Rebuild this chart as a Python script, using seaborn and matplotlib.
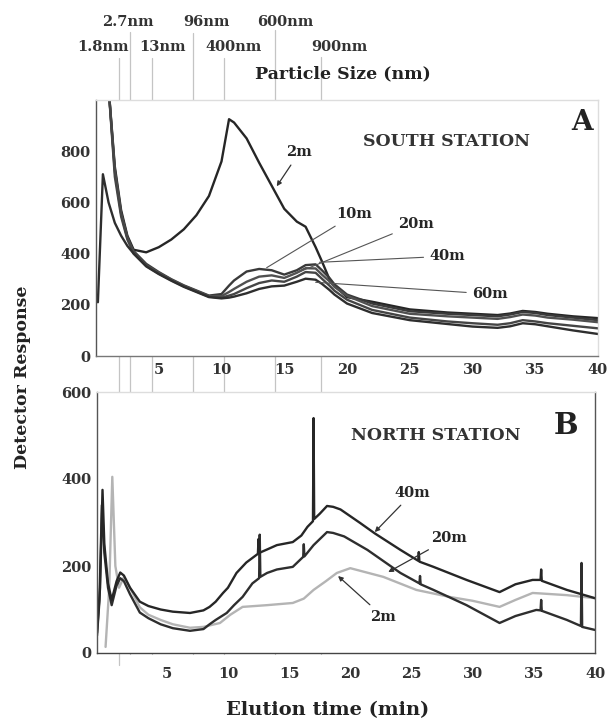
import numpy as np
import pandas as pd
import matplotlib
matplotlib.use("Agg")
import matplotlib.pyplot as plt
import matplotlib.transforms as mtransforms
from matplotlib.lines import Line2D
import seaborn as sns

# ---------------- data ----------------
nan = np.nan
# South station (panel A)
top_x = [0.15, 0.55, 1.0, 1.5, 2.0, 2.5, 3.0, 4, 5, 6, 7, 8, 9, 10, 10.6, 11, 12, 13, 14, 15,
         16, 16.7, 17.5, 18, 18.6, 19, 20, 22, 25, 28, 30, 32, 33, 34, 35, 36, 38, 40]
south_2m = [nan, nan, 1050, 740, 570, 470, 415, 405, 425, 455, 495, 550, 625, 760, 925, 912, 850, 755, 665, 575,
            525, 505, 425, 370, 300, 275, 230, 212, 182, 170, 165, 160, 166, 176, 172, 165, 155, 148]
south_10m = [nan, nan, 1050, 730, 560, 465, 410, 360, 328, 300, 276, 256, 236, 242, 275, 295, 330, 340, 335, 318,
             335, 355, 358, 335, 305, 280, 240, 205, 175, 165, 160, 155, 162, 172, 168, 160, 150, 140]
south_20m = [nan, nan, 1050, 720, 555, 460, 405, 355, 325, 298, 274, 254, 234, 234, 250, 262, 290, 310, 315, 305,
             325, 343, 342, 318, 292, 270, 235, 195, 165, 155, 150, 145, 152, 162, 158, 150, 142, 132]
south_40m = [nan, nan, 1050, 700, 545, 455, 400, 352, 322, 296, 272, 252, 232, 228, 236, 242, 265, 285, 295, 290,
             310, 328, 325, 302, 275, 255, 220, 180, 150, 135, 128, 122, 128, 140, 135, 128, 118, 108]
south_60m = [210, 710, 600, 520, 470, 430, 400, 350, 320, 294, 270, 250, 230, 225, 228, 232, 245, 262, 272, 275,
             290, 302, 298, 282, 258, 240, 205, 168, 140, 125, 115, 110, 116, 128, 124, 116, 100, 86]
south_depths = ["2m", "10m", "20m", "40m", "60m"]

# North station (panel B)
north_40m_x = [-0.7, -0.45, -0.25, -0.1, 0.2, 0.5, 0.9, 1.2, 1.5, 2.0, 2.8, 3.5, 4.5, 5.5, 6.9, 8.0, 8.5, 9.0,
               9.6, 10.0, 10.7, 11.5, 12.45, 12.5, 12.55, 13.2, 14.0, 15.3, 16.0, 16.5, 16.95, 17.0, 17.05, 17.5,
               18.1, 18.6, 19.2, 20.8, 22.0, 24.1, 25.55, 25.6, 25.65, 26.8, 29.5, 32.2, 33.5, 34.9, 35.55, 35.6,
               35.65, 37.7, 40]
north_40m_y = [46, 150, 375, 250, 160, 122, 165, 185, 178, 150, 118, 108, 100, 95, 92, 98, 106, 118,
               138, 150, 184, 208, 228, 262, 230, 238, 248, 255, 270, 290, 303, 540, 308, 320,
               338, 336, 330, 299, 275, 237, 212, 232, 210, 198, 168, 140, 158, 168, 168, 192,
               166, 145, 126]
north_20m_x = [-0.7, -0.5, -0.3, -0.1, 0.2, 0.5, 0.9, 1.2, 1.5, 2.0, 2.8, 3.5, 4.5, 5.5, 6.9, 8.0, 8.5, 9.0,
               9.9, 10.5, 11.2, 12.0, 12.55, 12.6, 12.65, 13.2, 14.0, 15.3, 16.15, 16.2, 16.25, 17.0, 18.1, 18.6,
               19.5, 21.4, 24.1, 25.65, 25.7, 25.75, 26.8, 29.5, 32.2, 33.5, 35.2, 35.55, 35.6, 35.65, 37.7,
               38.85, 38.9, 38.95, 40]
north_20m_y = [40, 120, 340, 230, 150, 110, 155, 172, 165, 135, 93, 80, 66, 57, 51, 55, 66, 76,
               92, 110, 129, 160, 172, 272, 175, 184, 192, 198, 221, 250, 222, 248, 278, 276,
               268, 237, 184, 160, 177, 158, 145, 110, 69, 85, 99, 98, 122, 97, 76,
               62, 207, 60, 53]
north_2m_x = [0.0, 0.3, 0.55, 0.8, 1.1, 1.5, 2.0, 2.8, 3.5, 4.5, 5.5, 6.9, 8.0, 9.35, 10.2, 11.2, 13.2,
              15.3, 16.2, 17.0, 18.0, 18.9, 20.0, 22.7, 25.4, 28.1, 30.0, 32.2, 33.5, 34.9, 35.5, 37.7, 40]
north_2m_y = [14, 150, 405, 200, 150, 175, 150, 105, 88, 76, 66, 58, 60, 69, 88, 106, 110,
              115, 125, 145, 165, 184, 195, 175, 145, 129, 120, 106, 122, 138, 137, 133, 126]

# particle size markers
size_x = [1.8, 2.7, 4.5, 7.7, 10.2, 14.3, 17.9]
size_labels = ["1.8nm", "2.7nm", "13nm", "96nm", "400nm", "600nm", "900nm"]

# ---------------- style ----------------
sns.set_style("white")
plt.rcParams['font.family'] = ['DejaVu Serif']
plt.rcParams['font.weight'] = 'bold'

fig = plt.figure(figsize=(6.11, 7.21), dpi=100)
axA = fig.add_axes([96/611, 1-356/721, (598-96)/611, (356-100)/721])
axB = fig.add_axes([97/611, 1-653/721, (595-97)/611, (653-392)/721])

# panel A
dfA = pd.DataFrame({
    "x": np.tile(top_x, 5),
    "y": np.concatenate([south_2m, south_10m, south_20m, south_40m, south_60m]),
    "depth": np.repeat(south_depths, len(top_x)),
})
palA = {"2m": "#262626", "10m": "#3a3a3a", "20m": "#505050", "40m": "#454545", "60m": "#2e2e2e"}
sns.lineplot(data=dfA, x="x", y="y", hue="depth", palette=palA, estimator=None,
             linewidth=1.7, legend=False, ax=axA)

# panel B
dfB = pd.concat([
    pd.DataFrame({"x": north_2m_x, "y": north_2m_y, "depth": "2m"}),
    pd.DataFrame({"x": north_20m_x, "y": north_20m_y, "depth": "20m"}),
    pd.DataFrame({"x": north_40m_x, "y": north_40m_y, "depth": "40m"}),
])
palB = {"2m": "#b4b4b4", "20m": "#2e2e2e", "40m": "#262626"}
sns.lineplot(data=dfB, x="x", y="y", hue="depth", palette=palB, estimator=None,
             linewidth=1.7, legend=False, ax=axB, sort=False)

for ax in (axA, axB):
    ax.set_xlabel("")
    ax.set_ylabel("")
    ax.tick_params(length=0, labelsize=10.5, labelcolor='#333333')
    for lab in ax.get_xticklabels() + ax.get_yticklabels():
        lab.set_fontweight('bold')
    ax.spines['left'].set_color('#555555')
    ax.spines['bottom'].set_color('#777777')
    ax.spines['top'].set_color('#dddddd')
    ax.spines['right'].set_color('#dddddd')
    for s in ax.spines.values():
        s.set_linewidth(1.0)

axA.set_xlim(0, 40)
axA.set_ylim(0, 1000)
axA.set_xticks([5, 10, 15, 20, 25, 30, 35, 40])
axA.set_yticks([0, 200, 400, 600, 800])
axA.tick_params(axis='x', pad=5)
axA.tick_params(axis='y', pad=4)

axB.set_xlim(-0.7, 40)
axB.set_ylim(0, 600)
axB.set_xticks([5, 10, 15, 20, 25, 30, 35, 40])
axB.set_yticks([0, 200, 400, 600])
axB.tick_params(axis='x', pad=10)
axB.tick_params(axis='y', pad=4)
axB.spines['bottom'].set_color('#444444')
axB.spines['right'].set_color('#555555')

# particle size lines across the figure
blend = mtransforms.blended_transform_factory(axA.transData, fig.transFigure)
tops_px = [58, 32, 58, 33, 58, 30, 57]
for i, xv in enumerate(size_x):
    bottom_px = 665 if i == 0 else 654
    fig.add_artist(Line2D([xv, xv], [1 - bottom_px/721, 1 - tops_px[i]/721], transform=blend,
                          color='#c4c4c4', linewidth=0.9, zorder=0))

row1 = {"2.7nm": 2.5, "96nm": 8.8, "600nm": 15.1}
row2 = {"1.8nm": 0.56, "13nm": 5.3, "400nm": 11.0, "900nm": 19.4}
for lab in size_labels:
    if lab in row1:
        fig.text(row1[lab], 1 - 22/721, lab, transform=blend, ha='center', va='center',
                 fontsize=10.5, fontweight='bold', color='#333333')
    else:
        fig.text(row2[lab], 1 - 47/721, lab, transform=blend, ha='center', va='center',
                 fontsize=10.5, fontweight='bold', color='#333333')
fig.text(19.7, 1 - 74/721, "Particle Size (nm)", transform=blend, ha='center', va='center',
         fontsize=12.5, fontweight='bold', color='#222222')

# panel annotations
axA.text(27.9, 838, "SOUTH STATION", ha='center', va='center', fontsize=12.5, fontweight='bold', color='#333333')
axA.text(38.7, 912, "A", ha='center', va='center', fontsize=20, fontweight='bold', color='#222222')
axB.text(27.0, 501, "NORTH STATION", ha='center', va='center', fontsize=12.5, fontweight='bold', color='#333333')
axB.text(37.6, 524, "B", ha='center', va='center', fontsize=21, fontweight='bold', color='#222222')

arrow_kw = dict(arrowstyle='-|>', color='#333333', lw=0.9, mutation_scale=7, shrinkA=2, shrinkB=0)
line_kw = dict(arrowstyle='-', color='#555555', lw=0.8, shrinkA=2, shrinkB=0)
lab_fs = 10.5
axA.annotate("2m", xy=(14.4, 663), xytext=(16.2, 795), ha='center', va='center', fontsize=lab_fs,
             fontweight='bold', arrowprops=arrow_kw)
axA.annotate("10m", xy=(13.6, 345), xytext=(20.6, 553), ha='center', va='center', fontsize=lab_fs,
             fontweight='bold', arrowprops=line_kw)
axA.annotate("20m", xy=(15.0, 305), xytext=(25.5, 515), ha='center', va='center', fontsize=lab_fs,
             fontweight='bold', arrowprops=line_kw)
axA.annotate("40m", xy=(17.8, 366), xytext=(28.0, 390), ha='center', va='center', fontsize=lab_fs,
             fontweight='bold', arrowprops=line_kw)
axA.annotate("60m", xy=(17.5, 288), xytext=(31.4, 242), ha='center', va='center', fontsize=lab_fs,
             fontweight='bold', arrowprops=line_kw)

axB.annotate("40m", xy=(22.0, 278), xytext=(25.1, 368), ha='center', va='center', fontsize=lab_fs,
             fontweight='bold', arrowprops=arrow_kw)
axB.annotate("20m", xy=(23.1, 186), xytext=(28.1, 264), ha='center', va='center', fontsize=lab_fs,
             fontweight='bold', arrowprops=arrow_kw)
axB.annotate("2m", xy=(19.0, 177), xytext=(22.7, 83), ha='center', va='center', fontsize=lab_fs,
             fontweight='bold', arrowprops=arrow_kw)

fig.text(23/611, 1 - 377/721, "Detector Response", rotation=90, ha='center', va='center',
         fontsize=12.5, fontweight='bold', color='#222222')
fig.text(328/611, 1 - 710/721, "Elution time (min)", ha='center', va='center',
         fontsize=14, fontweight='bold', color='#222222')

fig.savefig("out.png", dpi=100)
